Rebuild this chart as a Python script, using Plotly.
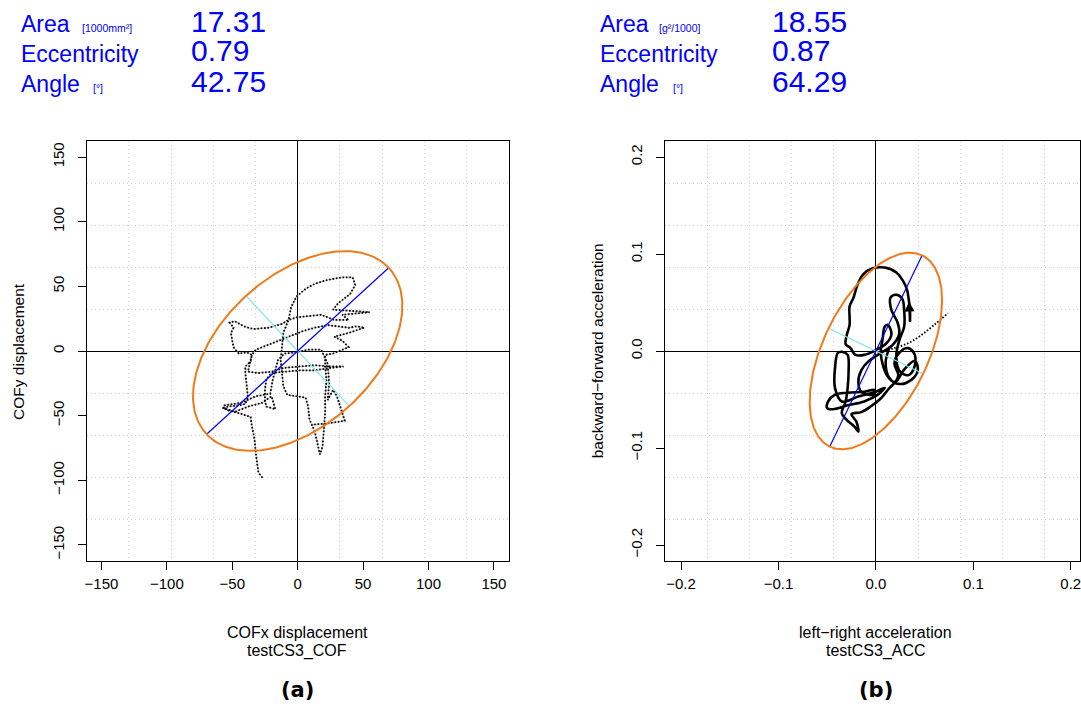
import numpy as np
import plotly.graph_objects as go

W, H = 1081, 713

# ---------------- data ----------------
stat_names = ["Area", "Eccentricity", "Angle"]
units_cof = ["[1000mm²]", "", "[°]"]
units_acc = ["[g²/1000]", "", "[°]"]
values_cof = [17.31, 0.79, 42.75]
values_acc = [18.55, 0.87, 64.29]

x_ticks_cof = [-150, -100, -50, 0, 50, 100, 150]
y_ticks_cof = [-150, -100, -50, 0, 50, 100, 150]
x_ticks_acc = [-0.2, -0.1, 0.0, 0.1, 0.2]
y_ticks_acc = [-0.2, -0.1, 0.0, 0.1, 0.2]

cof_x = [-27, -30, -32, -33, -35, -36,
         -45, -53, -57, -53, -45, -40, -38, -39, -40, -40, -36, -35, -39, -45, -49, -50, -51, -49, -52, -48,
         -41, -34, -22, -12, -7, -1, 8, 18, 28, 39, 34, 44, 55, 41, 31, 27, 31, 36, 40, 44, 42, 34, 23, 13, 6,
         -1, -5, -7, -11, -12, -13, -12, -11, -8, -2, 6, 8, 9, 13, 15, 17, 19, 20, 21, 21, 22, 21, 21,
         27, 34, 39, 34, 28, 39, 46, 51, 45, 39, 31, 23, 13, 3, -7, -17, -25, -32, -35,
         -38, -30, -20, -10, 1, 13, 26, 35, 26, 13, 1, -12, -20, -24, -25, -25, -24, -17,
         -20, -27, -38, -48, -57, -56, -43, -32, -21, -19, -17, -15, -10, -1, 8, 18,
         23, 24, 23, 27, 30, 34, 36, 23, 11]
cof_y = [-98, -94, -79, -68, -58, -51,
         -48, -46, -44, -43, -42, -41, -36, -27, -17, -12, -8, -3, -1, -2, 3, 8, 14, 18, 22, 23,
         19, 17, 18, 21, 24, 26, 27, 28, 24, 24, 28, 29, 30, 31, 32, 32, 37, 41, 44, 51, 57, 57, 55, 52, 48,
         42, 34, 24, 14, 3, -7, -17, -27, -34, -35, -36, -43, -53, -62, -71, -80, -74, -61, -48, -35, -22, -12, -3,
         -2, 1, 3, 8, 11, 14, 16, 18, 19, 18, 19, 20, 18, 15, 11, 7, 4, 1, -3,
         -16, -17, -16, -13, -12, -11, -12, -12, -13, -15, -15, -16, -17, -22, -30, -38, -43, -45,
         -35, -40, -43, -47, -44, -42, -40, -35, -33, -22, -15, -7, -2, -1, 1, 1,
         -10, -25, -38, -30, -35, -48, -54, -56, -57]

acc_x = [0.035, 0.035, 0.034, 0.032, 0.028, 0.021, 0.009, -0.004, -0.013, -0.019, -0.023, -0.027, -0.027,
         -0.027, -0.030, -0.031, -0.026, -0.021, -0.012, 0.000, 0.011, 0.016, 0.012, 0.009, 0.007, 0.005,
         0.007, 0.012, 0.019, 0.023, 0.019, 0.024, 0.033, 0.040, 0.039, 0.033, 0.024, 0.021, 0.024, 0.029,
         0.029, 0.027, 0.021, 0.015, 0.016, 0.022, 0.024, 0.017, 0.005, -0.008, -0.015, -0.018, -0.015,
         -0.003, -0.001, -0.012, -0.029, -0.042, -0.049, -0.050, -0.044, -0.029, -0.012, 0.002, 0.009,
         0.000, -0.018, -0.035, -0.042, -0.042, -0.039, -0.034, -0.029, -0.028, -0.029, -0.031, -0.035,
         -0.030, -0.022, -0.018, -0.020, -0.025, -0.015, -0.005, 0.005, 0.014,
         0.022, 0.030, 0.040, 0.043, 0.036, 0.024, 0.014, 0.010, 0.014]
acc_y = [0.030, 0.042, 0.051, 0.063, 0.072, 0.081, 0.086, 0.085, 0.079, 0.068, 0.055, 0.046, 0.035,
         0.027, 0.016, 0.007, 0.003, -0.004, -0.004, 0.001, 0.008, 0.018, 0.027, 0.025, 0.013, -0.001,
         -0.014, -0.026, -0.032, -0.025, -0.013, -0.002, 0.003, -0.004, -0.018, -0.025, -0.020, -0.004,
         0.011, 0.025, 0.042, 0.054, 0.058, 0.055, 0.042, 0.030, 0.018, 0.006, -0.002, -0.011, -0.020,
         -0.032, -0.042, -0.045, -0.040, -0.042, -0.043, -0.045, -0.052, -0.059, -0.060, -0.056, -0.052,
         -0.045, -0.038, -0.042, -0.047, -0.052, -0.038, -0.018, -0.002, -0.001, -0.004, -0.021, -0.038,
         -0.052, -0.064, -0.071, -0.078, -0.083, -0.073, -0.065, -0.063, -0.057, -0.049, -0.038,
         -0.030, -0.018, -0.010, -0.020, -0.030, -0.034, -0.028, -0.012, 0.004]

acc_tail_x = [0.002, 0.019, 0.033, 0.046, 0.060, 0.074]
acc_tail_y = [-0.002, 0.003, 0.008, 0.016, 0.027, 0.039]

# ---------------- helpers ----------------
def ellipse_geom(area, ecc, angle_deg):
    ab = area / np.pi
    ratio = np.sqrt(1 - ecc ** 2)
    a = np.sqrt(ab / ratio)
    b = a * ratio
    th = np.deg2rad(angle_deg)
    t = np.linspace(0, 2 * np.pi, 361)
    ex = a * np.cos(t) * np.cos(th) - b * np.sin(t) * np.sin(th)
    ey = a * np.cos(t) * np.sin(th) + b * np.sin(t) * np.cos(th)
    major = ([-a * np.cos(th), a * np.cos(th)], [-a * np.sin(th), a * np.sin(th)])
    minor = ([b * np.sin(th), -b * np.sin(th)], [-b * np.cos(th), b * np.cos(th)])
    return ex, ey, major, minor

ORANGE = "#F07A1A"
CYAN = "#7FE6E6"
BLUE = "#0000FF"
GRIDC = "#CFCFCF"
FONT = "Liberation Sans"

fig = go.Figure()

panels = [
    dict(xa="x", ya="y", area=values_cof[0] * 1000, ecc=values_cof[1], ang=values_cof[2]),
    dict(xa="x2", ya="y2", area=values_acc[0] / 1000, ecc=values_acc[1], ang=values_acc[2]),
]

# trajectories
fig.add_trace(go.Scatter(x=cof_x, y=cof_y, xaxis="x", yaxis="y", mode="lines",
                         line=dict(color="#A0A0A0", width=0.8), hoverinfo="skip"))
fig.add_trace(go.Scatter(x=cof_x, y=cof_y, xaxis="x", yaxis="y", mode="lines",
                         line=dict(color="black", width=1.8, dash="1.6px,1.8px"), hoverinfo="skip"))
fig.add_trace(go.Scatter(x=acc_tail_x, y=acc_tail_y, xaxis="x2", yaxis="y2", mode="lines",
                         line=dict(color="black", width=1.8, dash="1.6px,1.8px", shape="spline"),
                         hoverinfo="skip"))
fig.add_trace(go.Scatter(x=acc_x, y=acc_y, xaxis="x2", yaxis="y2", mode="lines",
                         line=dict(color="black", width=2.6, shape="spline", smoothing=1.0),
                         hoverinfo="skip"))

for p in panels:
    ex, ey, major, minor = ellipse_geom(p["area"], p["ecc"], p["ang"])
    fig.add_trace(go.Scatter(x=minor[0], y=minor[1], xaxis=p["xa"], yaxis=p["ya"], mode="lines",
                             line=dict(color=CYAN, width=1.2), hoverinfo="skip"))
    fig.add_trace(go.Scatter(x=major[0], y=major[1], xaxis=p["xa"], yaxis=p["ya"], mode="lines",
                             line=dict(color=BLUE, width=1.2), hoverinfo="skip"))
    fig.add_trace(go.Scatter(x=ex, y=ey, xaxis=p["xa"], yaxis=p["ya"], mode="lines",
                             line=dict(color=ORANGE, width=2), hoverinfo="skip"))

def px(x):
    return x / W

def py(y):
    return 1 - y / H

rx1 = 161.2
ry1 = 162.4
rx2_lo, rx2_hi = -0.2163, 0.2095
ry2 = 0.2165

grid_x1 = [-rx1 + k * 2 * rx1 / 10 for k in range(1, 10)]
grid_y1 = [-ry1 + k * 2 * ry1 / 10 for k in range(1, 10)]
grid_x2 = [-0.2163 + k * 2 * 0.2163 / 10 for k in range(1, 10)]
grid_y2 = [-ry2 + k * 2 * ry2 / 10 for k in range(1, 10)]

tickfont = dict(family=FONT, size=15, color="black")

def axis(domain, rng, tickvals, grid, anchor, fmt=None, yaxis=False):
    d = dict(domain=domain, range=rng, tickmode="array", tickvals=tickvals,
             ticks="outside", ticklen=8, tickcolor="black", tickwidth=1,
             showline=True, mirror=True, linecolor="black", linewidth=1,
             showgrid=False, zeroline=True, zerolinecolor="black", zerolinewidth=1,
             minor=dict(tickmode="array", tickvals=grid, showgrid=True, gridcolor=GRIDC,
                        griddash="1px,3px", gridwidth=1, ticklen=0),
             tickfont=tickfont, anchor=anchor, fixedrange=True,
             ticklabeloverflow="allow", ticklabelstandoff=1)
    if fmt:
        d["tickformat"] = fmt
    if yaxis:
        d["tickangle"] = -90
        d["ticklabelstandoff"] = 8
    return d

fig.update_layout(
    width=W, height=H, margin=dict(l=0, r=0, t=0, b=0),
    paper_bgcolor="white", plot_bgcolor="white", showlegend=False,
    xaxis=axis([px(85), px(508)], [-rx1, rx1], x_ticks_cof, grid_x1, "y"),
    yaxis=axis([py(561), py(141)], [-ry1, ry1], y_ticks_cof, grid_y1, "x", yaxis=True),
    xaxis2=axis([px(665), 1.0], [rx2_lo, rx2_hi], x_ticks_acc, grid_x2, "y2", fmt=".1f"),
    yaxis2=axis([py(561), py(141)], [-ry2, ry2], y_ticks_acc, grid_y2, "x2", fmt=".1f", yaxis=True),
)

ann = []

def txt(x, y, s, size, color="black", xanchor="center", angle=0, bold=False, family=FONT):
    ann.append(dict(x=px(x), y=py(y), xref="paper", yref="paper", text=("<b>%s</b>" % s) if bold else s,
                    showarrow=False, xanchor=xanchor, yanchor="middle", textangle=angle,
                    borderpad=0, font=dict(family=family, size=size, color=color)))

# stats blocks
for (x0, xu_list, xv, units, vals) in [
    (18, [79, None, 90], 189, units_cof, values_cof),
    (599, [658, None, 672], 771, units_acc, values_acc),
]:
    for i, name in enumerate(stat_names):
        yrow = 24 + 30 * i
        txt(x0, yrow, name, 23, BLUE, xanchor="left")
        if units[i]:
            txt(xu_list[i], yrow + 4, units[i], 10.5, BLUE, xanchor="left")
        txt(xv, yrow - 3, "%.2f" % vals[i], 30, BLUE, xanchor="left")

# axis titles
txt(17, 351, "COFy displacement", 15.5, angle=-90)
txt(598, 351, "backward−forward acceleration", 15.5, angle=-90)
txt(296, 632, "COFx displacement", 16)
txt(296, 651, "testCS3_COF", 16)
txt(876, 632, "left−right acceleration", 16)
txt(876, 651, "testCS3_ACC", 16)
txt(296, 690, "(a)", 21, bold=True, family="DejaVu Sans")
txt(876, 690, "(b)", 21, bold=True, family="DejaVu Sans")

# arrow at end of acceleration path
ann.append(dict(x=acc_x[2], y=acc_y[2], ax=acc_x[0], ay=acc_y[0], xref="x2", yref="y2",
                axref="x2", ayref="y2", showarrow=True, arrowhead=2, arrowsize=1, arrowwidth=2,
                arrowcolor="black", text=""))

fig.update_layout(annotations=ann)

fig.write_html("out.html")
